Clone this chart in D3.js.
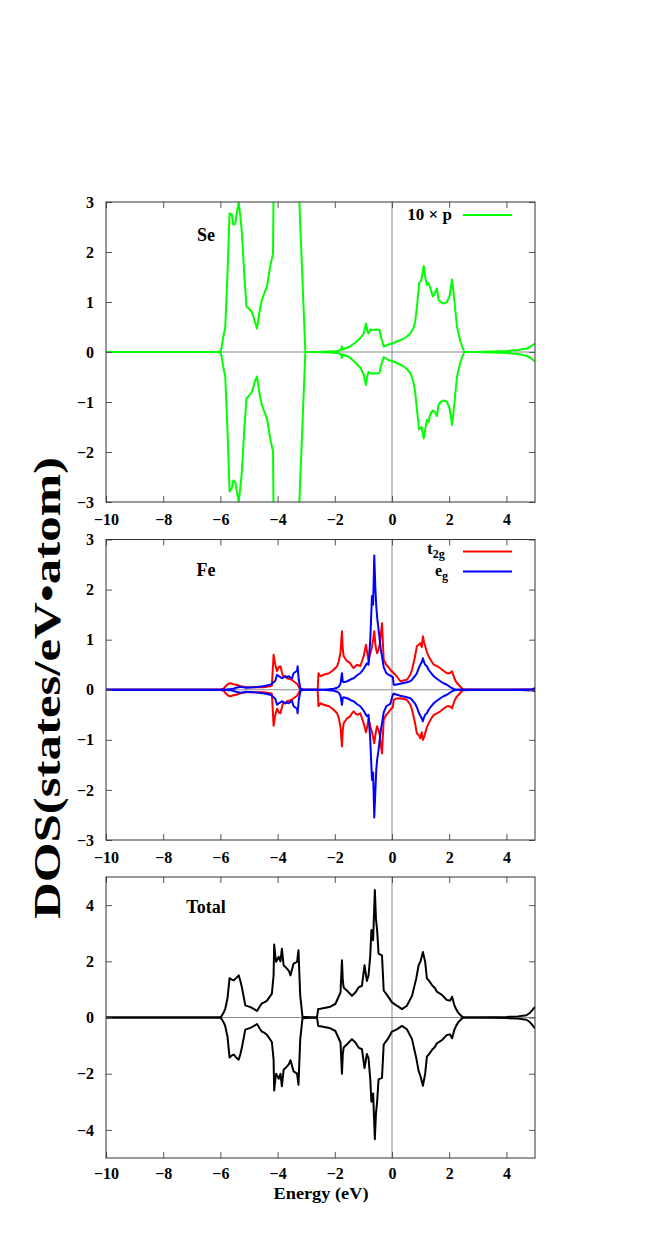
<!DOCTYPE html>
<html>
<head>
<meta charset="utf-8">
<script src="https://cdn.jsdelivr.net/npm/d3@7"></script>
<style>
  html, body { margin: 0; padding: 0; background: #fff; }
  svg { display: block; }
  text { font-family: "Liberation Serif", "Times New Roman", serif; font-weight: bold; fill: #000; }
</style>
</head>
<body>
<svg id="chart" width="664" height="1254"></svg>
<script>
// ---------------- DATA ----------------
const xTicks = [-10, -8, -6, -4, -2, 0, 2, 4];
const yTicksSeFe = [-3, -2, -1, 0, 1, 2, 3];
const yTicksTotal = [-4, -2, 0, 2, 4];

// Se p (x10)
const seE = [-10, -6.1, -5.98, -5.9, -5.83, -5.75, -5.68, -5.6, -5.55, -5.48, -5.42, -5.36, -5.3, -5.25, -5.17, -5.09, -5.01, -4.9, -4.8, -4.72, -4.62, -4.55, -4.45, -4.37, -4.26, -4.16, -4.13, -3.7, -3.26, -3.03, -2.6, -2.2, -1.9, -1.78, -1.75, -1.72, -1.5, -1.3, -1.1, -0.99, -0.91, -0.86, -0.82, -0.76, -0.7, -0.55, -0.44, -0.36, -0.29, -0.2, -0.12, 0.05, 0.17, 0.35, 0.5, 0.64, 0.75, 0.81, 0.88, 0.95, 1.03, 1.11, 1.16, 1.22, 1.28, 1.32, 1.38, 1.43, 1.5, 1.57, 1.63, 1.7, 1.78, 1.85, 1.92, 2.01, 2.06, 2.1, 2.14, 2.18, 2.27, 2.39, 2.53, 3.0, 3.5, 4.0, 4.4, 4.72, 4.85, 5.0];
const seUp = [0, 0, 0.02, 0.3, 0.5, 1.6, 2.77, 2.75, 2.55, 2.57, 2.8, 3.0, 2.7, 2.4, 1.6, 0.91, 0.87, 0.8, 0.62, 0.47, 0.85, 1.04, 1.2, 1.31, 1.71, 1.97, 4, 5, 3.3, 0, 0, 0.01, 0.02, 0.05, 0.11, 0.05, 0.1, 0.18, 0.28, 0.37, 0.57, 0.42, 0.37, 0.45, 0.44, 0.45, 0.44, 0.25, 0.11, 0.13, 0.15, 0.18, 0.21, 0.25, 0.3, 0.37, 0.48, 0.6, 0.95, 1.37, 1.45, 1.72, 1.5, 1.34, 1.38, 1.31, 1.2, 1.11, 1.18, 1.27, 1.04, 1.0, 0.97, 0.98, 1.0, 1.11, 1.3, 1.45, 1.25, 1.04, 0.51, 0.21, 0, 0, 0.01, 0.02, 0.04, 0.07, 0.11, 0.17];
const seDn = [0, 0, -0.02, -0.3, -0.5, -1.6, -2.79, -2.72, -2.57, -2.6, -2.8, -3.0, -2.7, -2.4, -1.6, -0.93, -0.88, -0.8, -0.6, -0.49, -0.88, -1.06, -1.22, -1.33, -1.73, -1.99, -4, -5, -3.3, 0, 0, -0.01, -0.02, -0.05, -0.12, -0.05, -0.1, -0.2, -0.32, -0.45, -0.66, -0.47, -0.4, -0.42, -0.43, -0.43, -0.42, -0.22, -0.1, -0.13, -0.16, -0.19, -0.22, -0.27, -0.33, -0.42, -0.6, -0.8, -1.2, -1.55, -1.5, -1.73, -1.55, -1.36, -1.4, -1.28, -1.2, -1.17, -1.2, -1.28, -1.05, -1.0, -0.97, -0.98, -1.0, -1.12, -1.3, -1.46, -1.25, -1.04, -0.5, -0.2, 0, 0, -0.01, -0.02, -0.04, -0.08, -0.12, -0.19];

// Fe d (t2g, eg)
const feE = [-10, -6.0, -5.89, -5.8, -5.72, -5.65, -5.55, -5.45, -5.3, -5.1, -4.84, -4.5, -4.26, -4.2, -4.14, -4.08, -4.02, -3.96, -3.9, -3.85, -3.81, -3.73, -3.67, -3.61, -3.5, -3.44, -3.32, -3.3, -3.26, -3.2, -3.1, -2.65, -2.6, -2.57, -2.5, -2.39, -2.2, -2.04, -1.92, -1.86, -1.8, -1.75, -1.72, -1.69, -1.57, -1.46, -1.4, -1.34, -1.28, -1.22, -1.11, -1.05, -0.99, -0.91, -0.87, -0.82, -0.76, -0.7, -0.66, -0.62, -0.58, -0.55, -0.52, -0.47, -0.43, -0.39, -0.35, -0.29, -0.2, -0.12, -0.06, 0.03, 0.06, 0.12, 0.29, 0.52, 0.64, 0.7, 0.8, 0.87, 0.93, 0.99, 1.04, 1.08, 1.12, 1.16, 1.22, 1.28, 1.37, 1.46, 1.57, 1.69, 1.8, 1.92, 2.02, 2.1, 2.18, 2.25, 2.33, 2.42, 2.51, 3.0, 4.0, 4.9, 5.0];
const t2gUp = [0, 0, 0.02, 0.08, 0.12, 0.13, 0.11, 0.1, 0.07, 0.05, 0.05, 0.05, 0.07, 0.08, 0.70, 0.5, 0.37, 0.45, 0.47, 0.35, 0.27, 0.27, 0.23, 0.22, 0.2, 0.17, 0.12, 0.1, 0.06, 0, 0, 0, 0, 0.33, 0.27, 0.30, 0.33, 0.40, 0.47, 0.57, 0.75, 1.17, 0.8, 0.67, 0.57, 0.53, 0.47, 0.43, 0.47, 0.50, 0.47, 0.57, 0.67, 0.90, 0.75, 0.57, 0.73, 0.85, 1.0, 1.17, 0.9, 0.8, 0.73, 0.8, 0.90, 1.1, 1.33, 0.60, 0.50, 0.45, 0.40, 0.35, 0.33, 0.30, 0.17, 0.20, 0.3, 0.40, 0.65, 0.87, 0.9, 0.93, 0.85, 1.07, 0.95, 0.87, 0.75, 0.67, 0.58, 0.50, 0.47, 0.43, 0.38, 0.33, 0.33, 0.37, 0.23, 0.15, 0.1, 0.04, 0.01, 0, 0, 0.01, 0.02];
const t2gDn = [0, 0, -0.02, -0.08, -0.12, -0.13, -0.11, -0.1, -0.07, -0.05, -0.05, -0.05, -0.07, -0.08, -0.72, -0.5, -0.38, -0.45, -0.47, -0.35, -0.27, -0.27, -0.23, -0.22, -0.2, -0.17, -0.12, -0.1, -0.06, 0, 0, 0, 0, -0.33, -0.27, -0.30, -0.33, -0.40, -0.47, -0.57, -0.75, -1.13, -0.8, -0.67, -0.57, -0.53, -0.47, -0.43, -0.47, -0.50, -0.47, -0.57, -0.67, -0.85, -0.75, -0.57, -0.73, -0.85, -0.95, -1.07, -0.9, -0.8, -0.73, -0.8, -0.90, -1.1, -1.27, -0.60, -0.50, -0.45, -0.40, -0.35, -0.2, -0.18, -0.17, -0.20, -0.3, -0.40, -0.65, -0.87, -0.9, -0.97, -0.85, -1.0, -0.95, -0.87, -0.75, -0.67, -0.58, -0.50, -0.47, -0.43, -0.38, -0.33, -0.33, -0.37, -0.23, -0.15, -0.1, -0.04, -0.01, 0, 0, -0.01, -0.02];
const egUp = [0, 0, 0, 0, 0.01, 0.01, 0.02, 0.04, 0.06, 0.04, 0.05, 0.07, 0.1, 0.12, 0.15, 0.18, 0.30, 0.27, 0.25, 0.23, 0.24, 0.27, 0.25, 0.27, 0.22, 0.33, 0.38, 0.47, 0.2, 0.02, 0, 0, 0, 0, 0, 0, 0.01, 0.02, 0.04, 0.06, 0.12, 0.33, 0.16, 0.15, 0.17, 0.2, 0.22, 0.23, 0.26, 0.29, 0.33, 0.37, 0.42, 0.5, 0.53, 0.5, 1.0, 1.87, 1.7, 2.68, 2.0, 1.67, 1.45, 1.2, 1.0, 0.8, 0.67, 0.45, 0.33, 0.30, 0.28, 0.25, 0.1, 0.1, 0.12, 0.15, 0.17, 0.2, 0.27, 0.33, 0.42, 0.5, 0.55, 0.63, 0.55, 0.5, 0.47, 0.4, 0.33, 0.27, 0.22, 0.17, 0.13, 0.1, 0.06, 0.03, 0.01, 0, 0, 0, 0, 0, 0, 0.01, 0.03];
const egDn = [0, 0, 0, 0, -0.01, -0.01, -0.02, -0.04, -0.06, -0.04, -0.05, -0.07, -0.1, -0.12, -0.15, -0.18, -0.30, -0.27, -0.25, -0.23, -0.24, -0.27, -0.25, -0.27, -0.22, -0.33, -0.38, -0.47, -0.2, -0.02, 0, 0, 0, 0, 0, 0, -0.01, -0.02, -0.04, -0.06, -0.12, -0.3, -0.16, -0.15, -0.17, -0.2, -0.22, -0.23, -0.26, -0.29, -0.33, -0.37, -0.42, -0.5, -0.53, -0.5, -1.0, -1.8, -1.65, -2.55, -2.0, -1.6, -1.4, -1.2, -1.0, -0.8, -0.67, -0.45, -0.33, -0.30, -0.28, -0.1, -0.08, -0.09, -0.12, -0.15, -0.17, -0.2, -0.27, -0.35, -0.45, -0.52, -0.57, -0.63, -0.55, -0.5, -0.47, -0.4, -0.33, -0.27, -0.22, -0.17, -0.13, -0.1, -0.06, -0.03, -0.01, 0, 0, 0, 0, 0, 0, -0.01, -0.03];

// Total
const totE = [-10, -6.1, -5.98, -5.9, -5.83, -5.75, -5.68, -5.6, -5.53, -5.45, -5.36, -5.3, -5.25, -5.13, -4.95, -4.82, -4.72, -4.62, -4.55, -4.45, -4.37, -4.2, -4.14, -4.12, -4.08, -4.05, -3.96, -3.9, -3.85, -3.79, -3.67, -3.6, -3.55, -3.44, -3.32, -3.27, -3.21, -3.13, -2.7, -2.62, -2.58, -2.5, -2.19, -1.98, -1.8, -1.75, -1.72, -1.69, -1.57, -1.4, -1.28, -1.17, -1.05, -0.96, -0.88, -0.82, -0.76, -0.72, -0.66, -0.6, -0.56, -0.52, -0.47, -0.35, -0.29, -0.15, 0.0, 0.17, 0.35, 0.52, 0.7, 0.85, 0.93, 1.0, 1.08, 1.16, 1.22, 1.3, 1.4, 1.5, 1.57, 1.75, 1.92, 2.03, 2.1, 2.18, 2.25, 2.33, 2.42, 2.51, 3.0, 3.5, 4.0, 4.4, 4.7, 4.83, 5.0];
const totUp = [0, 0, 0.02, 0.15, 0.31, 0.7, 1.40, 1.35, 1.32, 1.4, 1.5, 1.3, 1.08, 0.43, 0.37, 0.3, 0.23, 0.4, 0.50, 0.55, 0.6, 0.85, 1.5, 2.60, 2.2, 1.98, 2.16, 2.0, 2.45, 1.86, 1.74, 1.65, 1.5, 1.92, 1.98, 2.39, 0.8, 0.03, 0, 0.02, 0.3, 0.31, 0.37, 0.48, 0.89, 2.04, 1.3, 1.07, 0.95, 0.77, 0.89, 1.07, 1.13, 1.86, 1.3, 1.50, 2.2, 3.11, 2.75, 4.54, 3.5, 3.11, 2.27, 2.21, 0.96, 0.77, 0.54, 0.42, 0.30, 0.42, 0.77, 1.4, 1.86, 2.0, 2.33, 1.98, 1.39, 1.3, 1.15, 1.05, 0.92, 0.80, 0.62, 0.6, 0.74, 0.44, 0.28, 0.15, 0.06, 0, 0, 0.01, 0.02, 0.04, 0.08, 0.17, 0.38];
const totDn = [0, 0, -0.02, -0.15, -0.31, -0.7, -1.42, -1.35, -1.32, -1.42, -1.5, -1.3, -1.08, -0.43, -0.37, -0.3, -0.23, -0.4, -0.50, -0.55, -0.62, -0.87, -1.5, -2.60, -2.2, -2.0, -2.18, -2.0, -2.45, -1.86, -1.74, -1.65, -1.52, -1.92, -2.0, -2.39, -0.8, -0.03, 0, -0.02, -0.3, -0.31, -0.37, -0.48, -0.89, -2.0, -1.3, -1.07, -0.95, -0.77, -0.89, -1.07, -1.13, -1.8, -1.3, -1.45, -2.2, -3.0, -2.7, -4.33, -3.4, -3.0, -2.2, -2.15, -0.96, -0.77, -0.5, -0.42, -0.30, -0.42, -0.77, -1.45, -1.9, -2.1, -2.43, -2.0, -1.39, -1.3, -1.15, -1.05, -0.92, -0.80, -0.62, -0.6, -0.74, -0.44, -0.28, -0.15, -0.06, 0, 0, -0.01, -0.02, -0.04, -0.08, -0.17, -0.39];

// ---------------- LAYOUT ----------------
const svg = d3.select("#chart");
const X0 = 106, X1 = 535;
const x = d3.scaleLinear().domain([-10, 5]).range([X0, X1]);

const panels = [
  { id: "se", top: 202, bottom: 502, dom: [-3, 3], ticks: yTicksSeFe, xPad: 12, title: "Se", titleY: 241,
    series: [ { e: seE, v: seUp, c: "#00ff00" }, { e: seE, v: seDn, c: "#00ff00" } ] },
  { id: "fe", top: 539.5, bottom: 840, dom: [-3, 3], ticks: yTicksSeFe, xPad: 12, title: "Fe", titleY: 576,
    series: [ { e: feE, v: t2gUp, c: "#ff0000" }, { e: feE, v: t2gDn, c: "#ff0000" },
              { e: feE, v: egUp, c: "#0000ff" }, { e: feE, v: egDn, c: "#0000ff" } ] },
  { id: "tot", top: 877, bottom: 1158, dom: [-5, 5], ticks: yTicksTotal, xPad: 10, title: "Total", titleY: 913,
    series: [ { e: totE, v: totUp, c: "#000000" }, { e: totE, v: totDn, c: "#000000" } ] }
];

const defs = svg.append("defs");

panels.forEach(p => {
  const y = d3.scaleLinear().domain(p.dom).range([p.bottom, p.top]);
  const g = svg.append("g");

  defs.append("clipPath").attr("id", "clip-" + p.id)
    .append("rect").attr("x", X0).attr("y", p.top).attr("width", X1 - X0).attr("height", p.bottom - p.top);

  // zero axes (gray)
  g.append("line").attr("x1", X0).attr("x2", X1).attr("y1", y(0)).attr("y2", y(0))
    .attr("stroke", "#8a8a8a").attr("stroke-width", 1);
  g.append("line").attr("x1", x(0)).attr("x2", x(0)).attr("y1", p.top).attr("y2", p.bottom)
    .attr("stroke", "#8a8a8a").attr("stroke-width", 1);

  // curves
  const cg = g.append("g").attr("clip-path", "url(#clip-" + p.id + ")");
  p.series.forEach(s => {
    const pts = s.e.map((e, i) => [e, s.v[i]]);
    cg.append("path").datum(pts)
      .attr("d", d3.line().x(d => x(d[0])).y(d => y(d[1])))
      .attr("fill", "none").attr("stroke", s.c).attr("stroke-width", 2)
      .attr("stroke-linejoin", "round");
  });

  // axes
  const styleAxis = sel => {
    sel.attr("font-family", null).attr("font-size", null);
    sel.select(".domain").remove();
    sel.selectAll(".tick line").attr("stroke", "#555").attr("stroke-width", 1);
    sel.selectAll("text").style("font-family", '"Liberation Serif", serif').style("font-weight", "bold")
      .style("font-size", "16px").attr("fill", "#000");
  };
  g.append("g").attr("transform", `translate(0,${p.bottom})`)
    .call(d3.axisBottom(x).tickValues(xTicks).tickSize(-6).tickPadding(p.xPad).tickFormat(d3.format("d")))
    .call(styleAxis);
  g.append("g").attr("transform", `translate(0,${p.top})`)
    .call(d3.axisTop(x).tickValues(xTicks).tickSize(-6).tickFormat(""))
    .call(styleAxis);
  g.append("g").attr("transform", `translate(${X0},0)`)
    .call(d3.axisLeft(y).tickValues(p.ticks).tickSize(-6).tickPadding(12).tickFormat(d3.format("d")))
    .call(styleAxis);
  g.append("g").attr("transform", `translate(${X1},0)`)
    .call(d3.axisRight(y).tickValues(p.ticks).tickSize(-6).tickFormat(""))
    .call(styleAxis);

  // frame
  g.append("rect").attr("x", X0).attr("y", p.top).attr("width", X1 - X0).attr("height", p.bottom - p.top)
    .attr("fill", "none").attr("stroke", "#333").attr("stroke-width", 1);

  // panel title
  g.append("text").attr("x", 206).attr("y", p.titleY).attr("text-anchor", "middle")
    .style("font-size", "18px").text(p.title);
});

// legends
svg.append("text").attr("x", 452).attr("y", 220).attr("text-anchor", "end").style("font-size", "17px")
  .text("10 \u00d7 p");
svg.append("line").attr("x1", 463).attr("x2", 512).attr("y1", 215).attr("y2", 215)
  .attr("stroke", "#00ff00").attr("stroke-width", 2);

const t2 = svg.append("text").attr("x", 427).attr("y", 554).attr("text-anchor", "start").style("font-size", "17px");
t2.append("tspan").text("t");
t2.append("tspan").attr("dy", 4).style("font-size", "12px").text("2g");
svg.append("line").attr("x1", 463).attr("x2", 512).attr("y1", 551.5).attr("y2", 551.5)
  .attr("stroke", "#ff0000").attr("stroke-width", 2);

const eg = svg.append("text").attr("x", 435).attr("y", 576).attr("text-anchor", "start").style("font-size", "16px");
eg.append("tspan").text("e");
eg.append("tspan").attr("dy", 4).style("font-size", "12px").text("g");
svg.append("line").attr("x1", 463).attr("x2", 512).attr("y1", 571.5).attr("y2", 571.5)
  .attr("stroke", "#0000ff").attr("stroke-width", 2);

// axis titles
svg.append("text").attr("x", 321).attr("y", 1199).attr("text-anchor", "middle")
  .style("font-size", "17px").attr("textLength", 95).attr("lengthAdjust", "spacingAndGlyphs").text("Energy (eV)");

svg.append("text").attr("transform", "translate(60,688) rotate(-90)").attr("text-anchor", "middle")
  .style("font-size", "38px").attr("textLength", 462).attr("lengthAdjust", "spacingAndGlyphs")
  .text("DOS(states/eV\u2022atom)");
</script>
</body>
</html>
